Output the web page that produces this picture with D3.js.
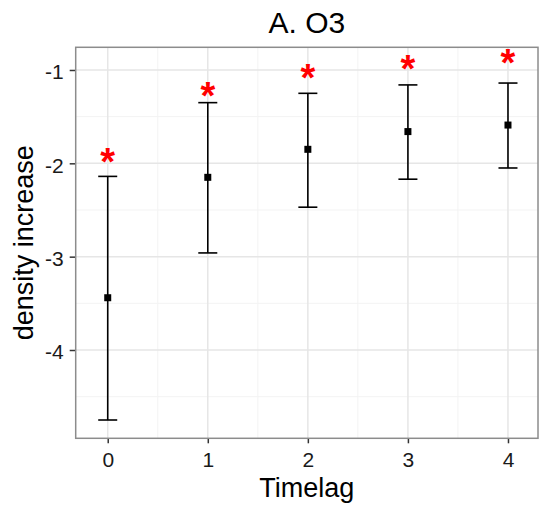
<!DOCTYPE html>
<html>
<head>
<meta charset="utf-8">
<script src="https://cdn.jsdelivr.net/npm/d3@7"></script>
<style>
    body { margin: 0; background: #fff; }
    text { font-family: "Liberation Sans", Arial, sans-serif; }
</style>
</head>
<body>
<svg id="chart" width="539" height="508"></svg>
<script>
// values
const timelag = [0, 1, 2, 3, 4];
const estimate = [-3.44, -2.15, -1.85, -1.66, -1.59];
const upper = [-2.14, -1.35, -1.25, -1.16, -1.14];
const lower = [-4.75, -2.96, -2.47, -2.17, -2.05];
const starAt = [-1.92, -1.21, -1.02, -0.92, -0.86];
const yTicks = [-1, -2, -3, -4];
const yMinor = [-1.5, -2.5, -3.5, -4.5];
const xMinor = [0.5, 1.5, 2.5, 3.5];

const svg = d3.select('#chart');
const x = d3.scaleLinear().domain([-0.32, 4.3]).range([75.7, 538]);
const y = d3.scaleLinear().domain([-4.946, -0.757]).range([438.3, 47.3]);
const [x0, x1] = x.range();
const [y0, y1] = y.range();

// grid
const grid = svg.append('g');
grid.selectAll('.ymin').data(yMinor).enter().append('line')
    .attr('x1', x0).attr('x2', x1)
    .attr('y1', (d) => y(d)).attr('y2', (d) => y(d))
    .attr('stroke', '#f3f3f3').attr('stroke-width', 1);
grid.selectAll('.xmin').data(xMinor).enter().append('line')
    .attr('y1', y0).attr('y2', y1)
    .attr('x1', (d) => x(d)).attr('x2', (d) => x(d))
    .attr('stroke', '#f3f3f3').attr('stroke-width', 1);
grid.selectAll('.ymaj').data(yTicks).enter().append('line')
    .attr('x1', x0).attr('x2', x1)
    .attr('y1', (d) => y(d)).attr('y2', (d) => y(d))
    .attr('stroke', '#e6e6e6').attr('stroke-width', 1.5);
grid.selectAll('.xmaj').data(timelag).enter().append('line')
    .attr('y1', y0).attr('y2', y1)
    .attr('x1', (d) => x(d)).attr('x2', (d) => x(d))
    .attr('stroke', '#e6e6e6').attr('stroke-width', 1.5);

// axes
const xAxis = svg.append('g')
    .attr('transform', `translate(0,${y0})`)
    .call(d3.axisBottom(x).tickValues(timelag).tickSize(5).tickPadding(9).tickFormat((d) => String(d)));
const yAxis = svg.append('g')
    .attr('transform', `translate(${x0},0)`)
    .call(d3.axisLeft(y).tickValues(yTicks).tickSize(6).tickPadding(6).tickFormat((d) => String(d)));
[xAxis, yAxis].forEach((ax) => {
    ax.select('.domain').remove();
    ax.selectAll('.tick line').attr('stroke', '#333').attr('stroke-width', 1.5);
    ax.selectAll('.tick text').attr('fill', '#1a1a1a').style('font-size', '21px');
});
yAxis.selectAll('.tick text').attr('dy', '0.42em');

// panel border
svg.append('rect')
    .attr('x', x0).attr('y', y1)
    .attr('width', x1 - x0).attr('height', y0 - y1)
    .attr('fill', 'none').attr('stroke', '#8c8c8c').attr('stroke-width', 1.5);

// error bars
const capHalf = x(0.095) - x(0);
const bars = svg.append('g').attr('stroke', '#000').attr('stroke-width', 1.6);
timelag.forEach((t, i) => {
    bars.append('line')
        .attr('x1', x(t)).attr('x2', x(t))
        .attr('y1', y(upper[i])).attr('y2', y(lower[i]));
    [upper[i], lower[i]].forEach((v) => {
        bars.append('line')
            .attr('x1', x(t) - capHalf).attr('x2', x(t) + capHalf)
            .attr('y1', y(v)).attr('y2', y(v));
    });
});

svg.selectAll('.pt').data(timelag).enter().append('rect')
    .attr('x', (d) => x(d) - 3.5)
    .attr('y', (d, i) => y(estimate[i]) - 3.5)
    .attr('width', 7).attr('height', 7)
    .attr('fill', '#000');

// significance stars
svg.selectAll('.star').data(timelag).enter().append('text')
    .attr('x', (d) => x(d))
    .attr('y', (d, i) => y(starAt[i]) + 19)
    .attr('text-anchor', 'middle')
    .attr('fill', 'red')
    .style('font-size', '38px')
    .style('font-weight', 'bold')
    .text('*');

// titles
svg.append('text')
    .attr('x', (x0 + x1) / 2).attr('y', 33)
    .attr('text-anchor', 'middle')
    .style('font-size', '30px')
    .text('A. O3');
svg.append('text')
    .attr('x', (x0 + x1) / 2).attr('y', 497)
    .attr('text-anchor', 'middle')
    .style('font-size', '27px')
    .text('Timelag');
svg.append('text')
    .attr('transform', `translate(33,${(y0 + y1) / 2}) rotate(-90)`)
    .attr('text-anchor', 'middle')
    .style('font-size', '27px')
    .text('density increase');
</script>
</body>
</html>
